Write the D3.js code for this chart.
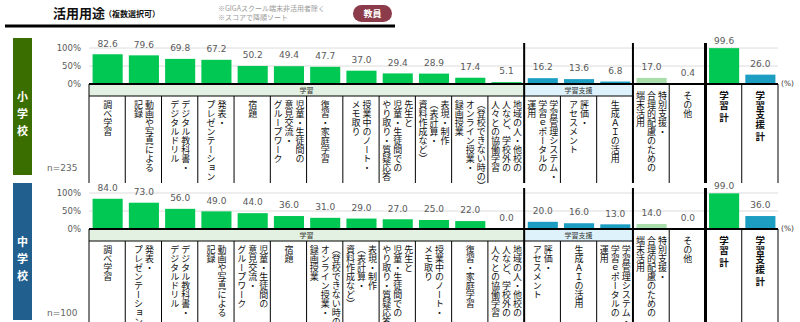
<!DOCTYPE html>
<html><head><meta charset="utf-8">
<script src="https://cdn.jsdelivr.net/npm/d3@7"></script>
<style>
body{margin:0;background:#fff;}
svg{display:block;}
.jp{font-family:"Noto Sans CJK JP","Noto Sans CJK SC",sans-serif;}
.num{font-family:"DejaVu Sans",Verdana,sans-serif;}
</style></head><body>
<svg id="chart" width="800" height="322"></svg>
<script>
// ---------- data ----------
const titleText = "活用用途";
const titleSub = "（複数選択可）";
const notes = ["※GIGAスクール端末非活用者除く", "※スコアで降順ソート"];
const badgeText = "教員";

// kind of each column position (same for both panels)
const columnKinds = ["learn","learn","learn","learn","learn","learn","learn","learn","learn","learn","learn","learn",
  "support","support","support","special","other","totalLearn","totalSupport"];
const groupNames = ["学習", "学習支援"];

const elemCategories = [
  "調べ学習",
  "動画や写真による\n記録",
  "デジタル教科書・\nデジタルドリル",
  "発表・\nプレゼンテーション",
  "宿題",
  "児童・生徒間の\n意見交流・\nグループワーク",
  "復習・家庭学習",
  "授業中のノート・\nメモ取り",
  "先生と\n児童・生徒間での\nやり取り・質疑応答",
  "表現・制作\n（表計算・\n資料作成など）",
  "（登校できない時の）\nオンライン授業・\n録画授業",
  "地域の人・他校の\n人など、学校外の\n人々との協働学習",
  "学習管理システム・\n学習ｅポータルの\n運用",
  "評価・\nアセスメント",
  "生成ＡＩの活用",
  "特別支援・\n合理的配慮のための\n端末活用",
  "その他",
  "学習 計",
  "学習支援 計"
];
const elemValues = [82.6, 79.6, 69.8, 67.2, 50.2, 49.4, 47.7, 37.0, 29.4, 28.9, 17.4, 5.1, 16.2, 13.6, 6.8, 17.0, 0.4, 99.6, 26.0];

const juniorCategories = [
  "調べ学習",
  "発表・\nプレゼンテーション",
  "デジタル教科書・\nデジタルドリル",
  "動画や写真による\n記録",
  "児童・生徒間の\n意見交流・\nグループワーク",
  "宿題",
  "（登校できない時の）\nオンライン授業・\n録画授業",
  "表現・制作\n（表計算・\n資料作成など）",
  "先生と\n児童・生徒間での\nやり取り・質疑応答",
  "授業中のノート・\nメモ取り",
  "復習・家庭学習",
  "地域の人・他校の\n人など、学校外の\n人々との協働学習",
  "評価・\nアセスメント",
  "生成ＡＩの活用",
  "学習管理システム・\n学習ｅポータルの\n運用",
  "特別支援・\n合理的配慮のための\n端末活用",
  "その他",
  "学習 計",
  "学習支援 計"
];
const juniorValues = [84.0, 73.0, 56.0, 49.0, 44.0, 36.0, 31.0, 29.0, 27.0, 25.0, 22.0, 0.0, 20.0, 16.0, 13.0, 14.0, 0.0, 99.0, 36.0];

const yTicks = [0, 50, 100];
const schoolNames = [["小","学","校"], ["中","学","校"]];
const sampleSizes = ["n=235", "n=100"];

// ---------- styles / layout ----------
const barColors = {learn:"#00C853", support:"#1B9EC2", special:"#A9DDA9", other:"#A9DDA9", totalLearn:"#00C853", totalSupport:"#1B9EC2"};
const bandColors = ["#E2F1E1", "#DDF2FA"];
const sideColors = ["#3B6E00", "#215F8F"];

const svg = d3.select("#chart");

// header
svg.append("text").attr("class","jp").attr("x",53).attr("y",18)
  .attr("font-size",13).attr("font-weight","bold").attr("fill","#111").text(titleText);
svg.append("text").attr("class","jp").attr("x",104).attr("y",17)
  .attr("font-size",8).attr("font-weight","bold").attr("fill","#111").text(titleSub);
notes.forEach((t,i)=>{
  svg.append("text").attr("class","jp").attr("x",218).attr("y",10.5+i*9.5)
    .attr("font-size",7).attr("fill","#9a9a9a").text(t);
});
svg.append("rect").attr("x",353).attr("y",5).attr("width",39).attr("height",17).attr("rx",8.5).attr("fill","#8C3B4A");
svg.append("text").attr("class","jp").attr("x",372.5).attr("y",13.5).attr("dy","0.36em")
  .attr("text-anchor","middle").attr("font-size",9).attr("font-weight","bold").attr("fill","#fff").text(badgeText);
svg.append("line").attr("x1",5).attr("x2",395).attr("y1",26).attr("y2",26).attr("stroke","#000").attr("stroke-width",3);

const x = d3.scaleBand().domain(d3.range(columnKinds.length)).range([89, 778]).padding(0);
const step = x.step();
const left = 89, right = 778;
const boundary = i => left + i*step;

const panels = [
  {cats: elemCategories, values: elemValues, base: 84, bottom: 183},
  {cats: juniorCategories, values: juniorValues, base: 229, bottom: 322}
];

panels.forEach((p, pi) => {
  const g = svg.append("g");
  const y = d3.scaleLinear().domain([0,100]).range([p.base, p.base-36]);
  const bandBottom = p.base + 12;

  // sidebar
  g.append("rect").attr("x",13).attr("y",p.base-46).attr("width",19).attr("height",137).attr("fill",sideColors[pi]);
  schoolNames[pi].forEach((c,i)=>{
    g.append("text").attr("class","jp").attr("x",22.5).attr("y",p.base+13+i*17).attr("dy","0.36em")
      .attr("text-anchor","middle").attr("font-size",11).attr("font-weight","bold").attr("fill","#fff").text(c);
  });
  g.append("text").attr("class","num").attr("x",47).attr("y",p.base+84).attr("dy","0.36em")
    .attr("font-size",9).attr("fill","#666").text(sampleSizes[pi]);

  // gridlines
  g.selectAll(".grid").data(yTicks.filter(d=>d>0)).join("line")
    .attr("x1",left).attr("x2",right).attr("y1",d=>y(d)).attr("y2",d=>y(d))
    .attr("stroke","#dcdcdc").attr("stroke-width",1);

  // y axis labels
  const ax = g.append("g").attr("transform",`translate(${left},0)`)
    .call(d3.axisLeft(y).tickValues(yTicks).tickFormat(d=>d+"%").tickSize(0).tickPadding(8));
  ax.select(".domain").remove();
  ax.selectAll("text").attr("class","num").attr("font-size",8.5).attr("fill","#595959").style("font-family","DejaVu Sans");

  // group bands
  const groupCols = [columnKinds.map((k,i)=>k==="learn"?i:-1).filter(i=>i>=0),
                     columnKinds.map((k,i)=>k==="support"?i:-1).filter(i=>i>=0)];
  groupCols.forEach((cols, gi) => {
    const x0 = x(d3.min(cols)), x1 = x(d3.max(cols)) + step;
    g.append("rect").attr("x",x0).attr("y",p.base).attr("width",x1-x0).attr("height",12).attr("fill",bandColors[gi]);
    g.append("text").attr("class","jp").attr("x",(x0+x1)/2).attr("y",p.base+6.5).attr("dy","0.36em")
      .attr("text-anchor","middle").attr("font-size",7).attr("fill","#333").text(groupNames[gi]);
  });
  const grpEnd = x(d3.max(groupCols[1])) + step;
  g.append("line").attr("x1",left).attr("x2",grpEnd).attr("y1",bandBottom).attr("y2",bandBottom)
    .attr("stroke","#000").attr("stroke-width",1);

  // bars
  const bw = step*0.83;
  g.selectAll(".bar").data(p.values).join("rect")
    .attr("x",(d,i)=>x(i)+(step-bw)/2+0.5).attr("width",bw)
    .attr("y",d=>y(d)).attr("height",d=>y(0)-y(d))
    .attr("fill",(d,i)=>barColors[columnKinds[i]]);

  // value labels
  g.selectAll(".val").data(p.values).join("text").attr("class","num")
    .attr("x",(d,i)=>x(i)+step/2+0.5).attr("y",d=>Math.max(y(d)-11, y(100)-7)).attr("dy","0.36em")
    .attr("text-anchor","middle").attr("font-size",9).attr("fill","#595959")
    .text(d=>d.toFixed(1));

  // axis baseline
  g.append("line").attr("x1",left).attr("x2",right).attr("y1",p.base).attr("y2",p.base)
    .attr("stroke","#000").attr("stroke-width",2);
  g.append("text").attr("class","num").attr("x",781).attr("y",p.base-1).attr("dy","0.36em")
    .attr("font-size",7.5).attr("fill","#333").text("(%)");

  // separators
  for (let i = 0; i <= columnKinds.length; i++) {
    const bx = boundary(i);
    const kindL = columnKinds[i-1], kindR = columnKinds[i];
    let y1, sw = 1;
    if (i === 12 || i === 15) { y1 = p.base-41; sw = 2; }
    else if (i === 17) { y1 = p.base-41; sw = 3; }
    else if (i === 0 || i >= 16) { y1 = p.base; }
    else { y1 = bandBottom; }
    g.append("line").attr("x1",bx).attr("x2",bx).attr("y1",y1).attr("y2",p.bottom)
      .attr("stroke","#000").attr("stroke-width",sw);
  }

  // category labels (vertical)
  p.cats.forEach((c, i) => {
    const lines = c.split("\n");
    const kind = columnKinds[i];
    const grouped = (kind === "learn" || kind === "support");
    const isTotal = kind.startsWith("total");
    const cx = x(i) + step/2 + 0.5;
    const top = grouped ? bandBottom + 4 : p.base + 7;
    const lh = 11;
    lines.forEach((ln, li) => {
      g.append("text").attr("class","jp")
        .attr("x", cx + (lines.length-1)/2*lh - li*lh)
        .attr("y", top)
        .style("writing-mode","vertical-rl")
        .attr("font-size", isTotal ? 9.5 : 9)
        .attr("font-weight", isTotal ? "bold" : "normal")
        .attr("fill","#111")
        .text(ln);
    });
  });
});
</script>
</body></html>
